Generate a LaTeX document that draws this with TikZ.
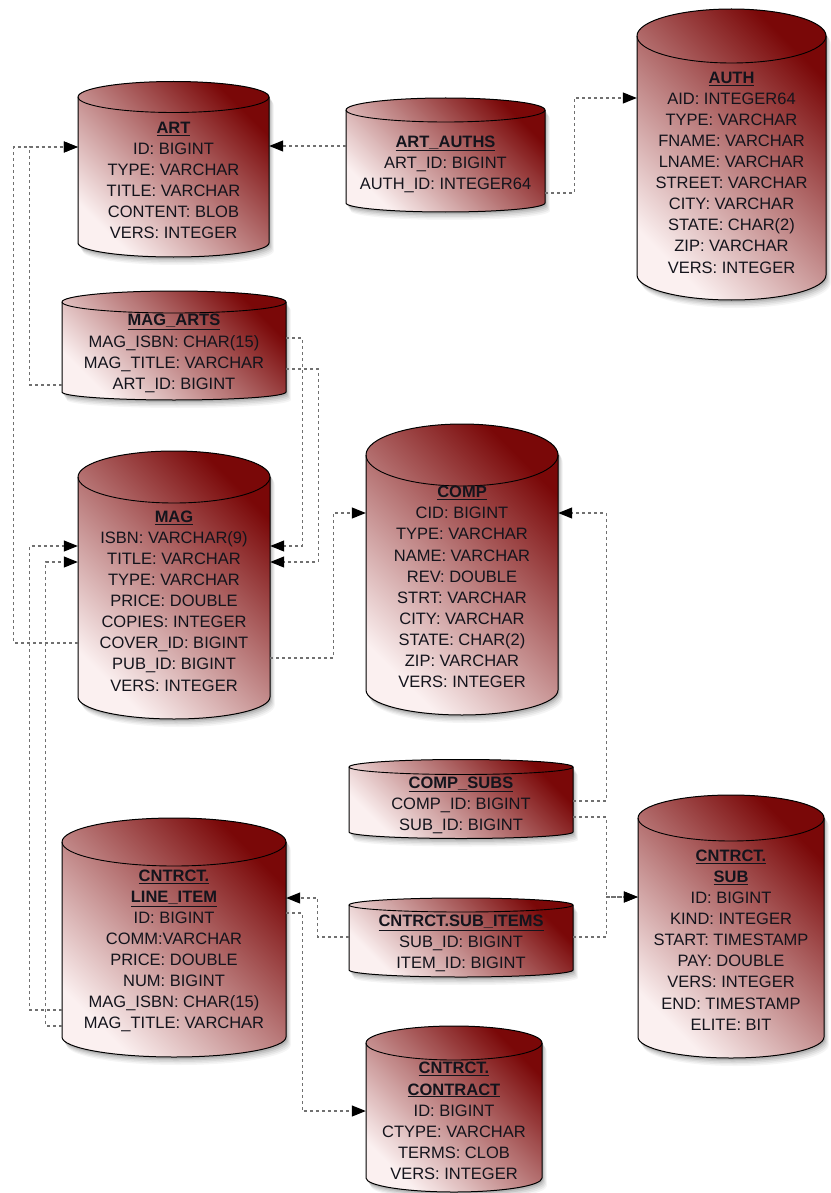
\documentclass[tikz,border=0pt]{standalone}
\usepackage{fontspec}
\setmainfont{Liberation Sans}
\usetikzlibrary{arrows.meta}
\definecolor{dbdark}{HTML}{7A0808}
\definecolor{dblight}{HTML}{FBF0F0}
\definecolor{conngray}{HTML}{707070}
\definecolor{txt}{HTML}{14141C}
\newcommand\dbsil[6]{(#1-#2,-#3) -- (#1-#2,-#4) arc[start angle=180,end angle=360,x radius=#2,y radius=#6] -- (#1+#2,-#3) arc[start angle=0,end angle=180,x radius=#2,y radius=#5] -- cycle}
\newcommand\tbltitle[1]{\underline{\textbf{#1}}}
\newcommand\dbtable[9]{%
  \foreach \s/\o in {2/0.10,3.5/0.08,5/0.06,6.5/0.05,8/0.04}{%
    \fill[black,opacity=\o,xshift={0.6*\s pt},yshift={-\s pt}] \dbsil{#2}{#3}{#4}{#5}{#6}{#7};}
  \path[cylfill] \dbsil{#2}{#3}{#4}{#5}{#6}{#7};
  \draw[cylline] (#2-#3,-#4) arc[start angle=180,end angle=360,x radius=#3,y radius=#6];
  \node[bodybox,minimum width={2*#3 pt},minimum height={(#5-#4)*1pt}] (#1) at (#2,{-(#4+#5)/2}) {};
  \node[tabtext] (#1-t) at (#2,-#8) {#9};
}
\tikzset{
  cylfill/.style={draw=black,line width=1pt,top color=dbdark,bottom color=dblight,shading angle=-45},
  cylline/.style={draw=black,line width=0.9pt},
  bodybox/.style={rectangle,draw=none,inner sep=0pt},
  tabtext/.style={align=center,inner sep=0pt,text=txt,font=\fontsize{16.5}{21.1}\selectfont},
  conn/.style={draw=conngray,line width=1.1pt,dash pattern=on 3pt off 3pt,
    -{Triangle[length=14pt,width=11pt,color=black]}}
}
\begin{document}
\begin{tikzpicture}[x=1pt,y=1pt]
\path[use as bounding box,fill=white] (0,0) rectangle (830,-1193);

\dbtable{art}{173.5}{95.5}{97}{243}{15.5}{14}{180.5}{\tbltitle{ART}\\ID: BIGINT\\TYPE: VARCHAR\\TITLE: VARCHAR\\CONTENT: BLOB\\VERS: INTEGER}
\dbtable{artauths}{445.5}{99.5}{110}{203}{12}{9}{164}{\tbltitle{ART\_AUTHS}\\ART\_ID: BIGINT\\AUTH\_ID: INTEGER64}
\dbtable{auth}{731.5}{94.5}{36}{275}{27}{25}{172.5}{\tbltitle{AUTH}\\AID: INTEGER64\\TYPE: VARCHAR\\FNAME: VARCHAR\\LNAME: VARCHAR\\STREET: VARCHAR\\CITY: VARCHAR\\STATE: CHAR(2)\\ZIP: VARCHAR\\VERS: INTEGER}
\dbtable{magarts}{174}{112}{302}{392}{11}{8}{353.5}{\tbltitle{MAG\_ARTS}\\MAG\_ISBN: CHAR(15)\\MAG\_TITLE: VARCHAR\\ART\_ID: BIGINT}
\dbtable{mag}{174}{96}{477}{697}{26}{22}{601}{\tbltitle{MAG}\\ISBN: VARCHAR(9)\\TITLE: VARCHAR\\TYPE: VARCHAR\\PRICE: DOUBLE\\COPIES: INTEGER\\COVER\_ID: BIGINT\\PUB\_ID: BIGINT\\VERS: INTEGER}
\dbtable{comp}{462}{96}{455}{690}{31}{25}{587}{\tbltitle{COMP}\\CID: BIGINT\\TYPE: VARCHAR\\NAME: VARCHAR\\REV: DOUBLE\\STRT: VARCHAR\\CITY: VARCHAR\\STATE: CHAR(2)\\ZIP: VARCHAR\\VERS: INTEGER}
\dbtable{compsubs}{461}{112}{767}{832}{7.5}{6.5}{805}{\tbltitle{COMP\_SUBS}\\COMP\_ID: BIGINT\\SUB\_ID: BIGINT}
\dbtable{subitems}{461}{112}{905}{970}{7}{7}{943.5}{\tbltitle{CNTRCT.SUB\_ITEMS}\\SUB\_ID: BIGINT\\ITEM\_ID: BIGINT}
\dbtable{sub}{731}{93}{818}{1037}{23}{21}{940}{\tbltitle{CNTRCT.}\\\tbltitle{SUB}\\ID: BIGINT\\KIND: INTEGER\\START: TIMESTAMP\\PAY: DOUBLE\\VERS: INTEGER\\END: TIMESTAMP\\ELITE: BIT}
\dbtable{lineitem}{174}{112}{842}{1037}{24}{20}{951}{\tbltitle{CNTRCT.}\\\tbltitle{LINE\_ITEM}\\ID: BIGINT\\COMM:VARCHAR\\PRICE: DOUBLE\\NUM: BIGINT\\MAG\_ISBN: CHAR(15)\\MAG\_TITLE: VARCHAR}
\dbtable{contract}{454}{88}{1043}{1178}{17}{14}{1121}{\tbltitle{CNTRCT.}\\\tbltitle{CONTRACT}\\ID: BIGINT\\CTYPE: VARCHAR\\TERMS: CLOB\\VERS: INTEGER}

% connectors
\draw[conn] (magarts.west |- 0,-385) -- ++(-32,0) |- (art.west |- 0,-147);
\draw[conn] (mag.west |- 0,-643) -- ++(-64,0) |- (art.west |- 0,-147);
\draw[conn] (artauths.west |- 0,-146) -- (art.east |- 0,-146);
\draw[conn] (artauths.east |- 0,-193) -- ++(29,0) |- (auth.west |- 0,-98);
\draw[conn] (magarts.east |- 0,-338) -- ++(16,0) |- (mag.east |- 0,-546);
\draw[conn] (magarts.east |- 0,-369) -- ++(32,0) |- (mag.east |- 0,-562);
\draw[conn] (mag.east |- 0,-658) -- ++(63,0) |- (comp.west |- 0,-513);
\draw[conn] (compsubs.east |- 0,-801) -- ++(33,0) |- (comp.east |- 0,-513);
\draw[conn] (compsubs.east |- 0,-817) -- ++(33,0) |- (sub.west |- 0,-897);
\draw[conn] (subitems.east |- 0,-937) -- ++(33,0) |- (sub.west |- 0,-897);
\draw[conn] (subitems.west |- 0,-937) -- ++(-31,0) |- (lineitem.east |- 0,-898);
\draw[conn] (lineitem.east |- 0,-913) -- ++(16,0) |- (contract.west |- 0,-1111);
\draw[conn] (lineitem.west |- 0,-1010) -- ++(-32,0) |- (mag.west |- 0,-546);
\draw[conn] (lineitem.west |- 0,-1026) -- ++(-16,0) |- (mag.west |- 0,-562);
\end{tikzpicture}
\end{document}
